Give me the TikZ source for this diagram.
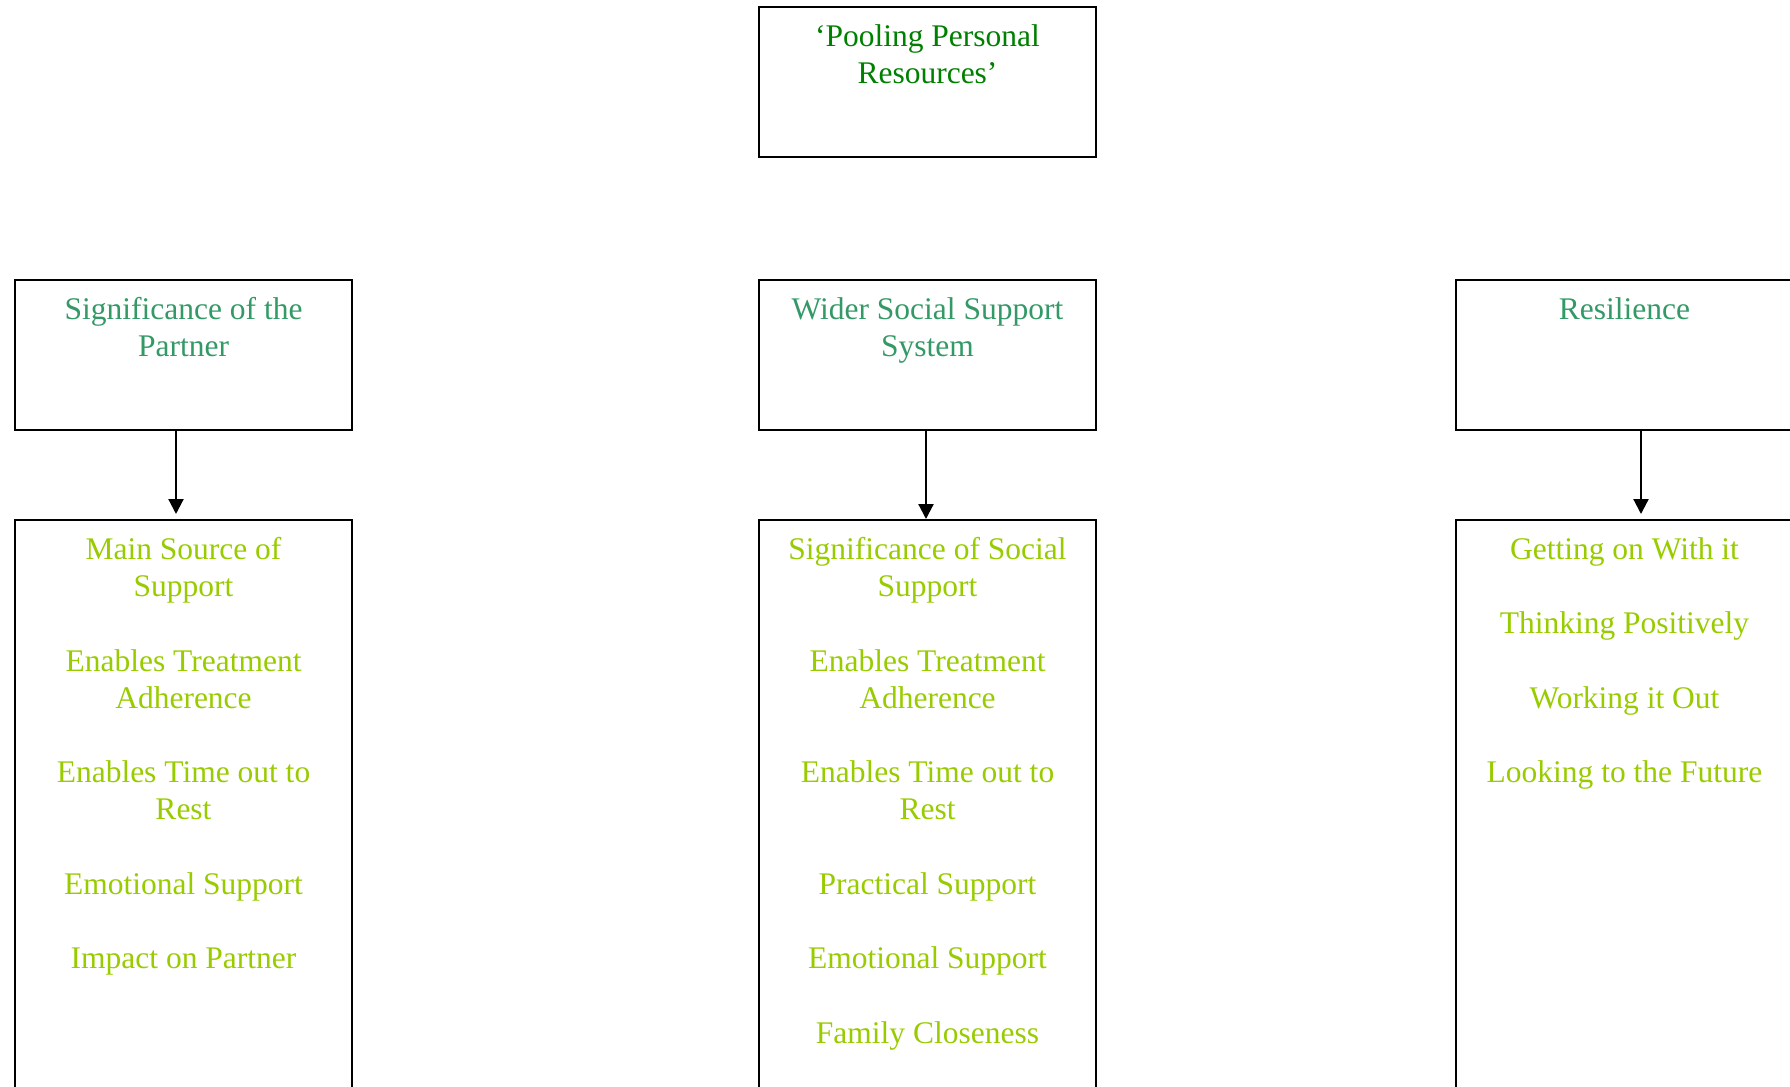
\documentclass[tikz,border=0pt]{standalone}
\usepackage{fontspec}
\setmainfont{Liberation Serif}
\usepackage{tikz}
\usetikzlibrary{arrows.meta}

\definecolor{themegreen}{HTML}{008000}
\definecolor{subgreen}{HTML}{339966}
\definecolor{codegreen}{HTML}{99CC00}

\begin{document}
\begin{tikzpicture}[x=0.5pt,y=-0.5pt]
		\useasboundingbox (0,0) rectangle (1790,1087);
		\tikzstyle{BoxStyle}=[draw=black,line width=1pt,shape=rectangle,inner sep=0pt,minimum width=168.5pt,minimum height=75pt]
		\tikzstyle{TextStyle}=[anchor=north,align=center,inner sep=0pt,font=\fontsize{15.75}{18.6}\selectfont]
		% theme
		\node[BoxStyle] (pool) at (927.5,82) {};
		\node[TextStyle,text=themegreen] (pooltxt) at ([yshift=-7pt]pool.north) {\strut‘Pooling Personal\\Resources’};
		% subthemes
		\node[BoxStyle] (partner) at (183.5,355) {};
		\node[BoxStyle] (social) at (927.5,355) {};
		\node[BoxStyle] (resil) at (1624.5,355) {};
		{
			\tikzset{TextStyle/.append style = {text=subgreen}}
			\node[TextStyle] (partnertxt) at ([yshift=-7pt]partner.north) {\strut Significance of the\\Partner};
			\node[TextStyle] (socialtxt) at ([yshift=-7pt]social.north) {\strut Wider Social Support\\System};
			\node[TextStyle] (resiltxt) at ([yshift=-7pt]resil.north) {\strut Resilience};
		}
		% codes
		{
			\tikzset{BoxStyle/.append style = {minimum height=305pt}}
			\node[BoxStyle] (partnerlist) at (183.5,825) {};
			\node[BoxStyle] (sociallist) at (927.5,825) {};
			\node[BoxStyle] (resillist) at (1624.5,825) {};
		}
		{
			\tikzset{TextStyle/.append style = {text=codegreen}}
			\node[TextStyle] (partnerlisttxt) at ([yshift=-7pt]partnerlist.north) {\strut Main Source of\\Support\\[18.6pt]Enables Treatment\\Adherence\\[18.6pt]Enables Time out to\\Rest\\[18.6pt]Emotional Support\\[18.6pt]Impact on Partner};
			\node[TextStyle] (sociallisttxt) at ([yshift=-7pt]sociallist.north) {\strut Significance of Social\\Support\\[18.6pt]Enables Treatment\\Adherence\\[18.6pt]Enables Time out to\\Rest\\[18.6pt]Practical Support\\[18.6pt]Emotional Support\\[18.6pt]Family Closeness};
			\node[TextStyle] (resillisttxt) at ([yshift=-7pt]resillist.north) {\strut Getting on With it\\[18.6pt]Thinking Positively\\[18.6pt]Working it Out\\[18.6pt]Looking to the Future};
		}
		\tikzstyle{EdgeStyle}=[-{Triangle[width=7.5pt,length=7.5pt]},line width=1.1pt]
		\draw[EdgeStyle,shorten >=2.5pt] ([xshift=-3.75pt]partner.south) -- ([xshift=-3.75pt]partnerlist.north);
		\draw[EdgeStyle] ([xshift=-0.75pt]social.south) -- ([xshift=-0.75pt]sociallist.north);
		\draw[EdgeStyle,shorten >=2.5pt] ([xshift=8.25pt]resil.south) -- ([xshift=8.25pt]resillist.north);
	\end{tikzpicture}
\end{document}
